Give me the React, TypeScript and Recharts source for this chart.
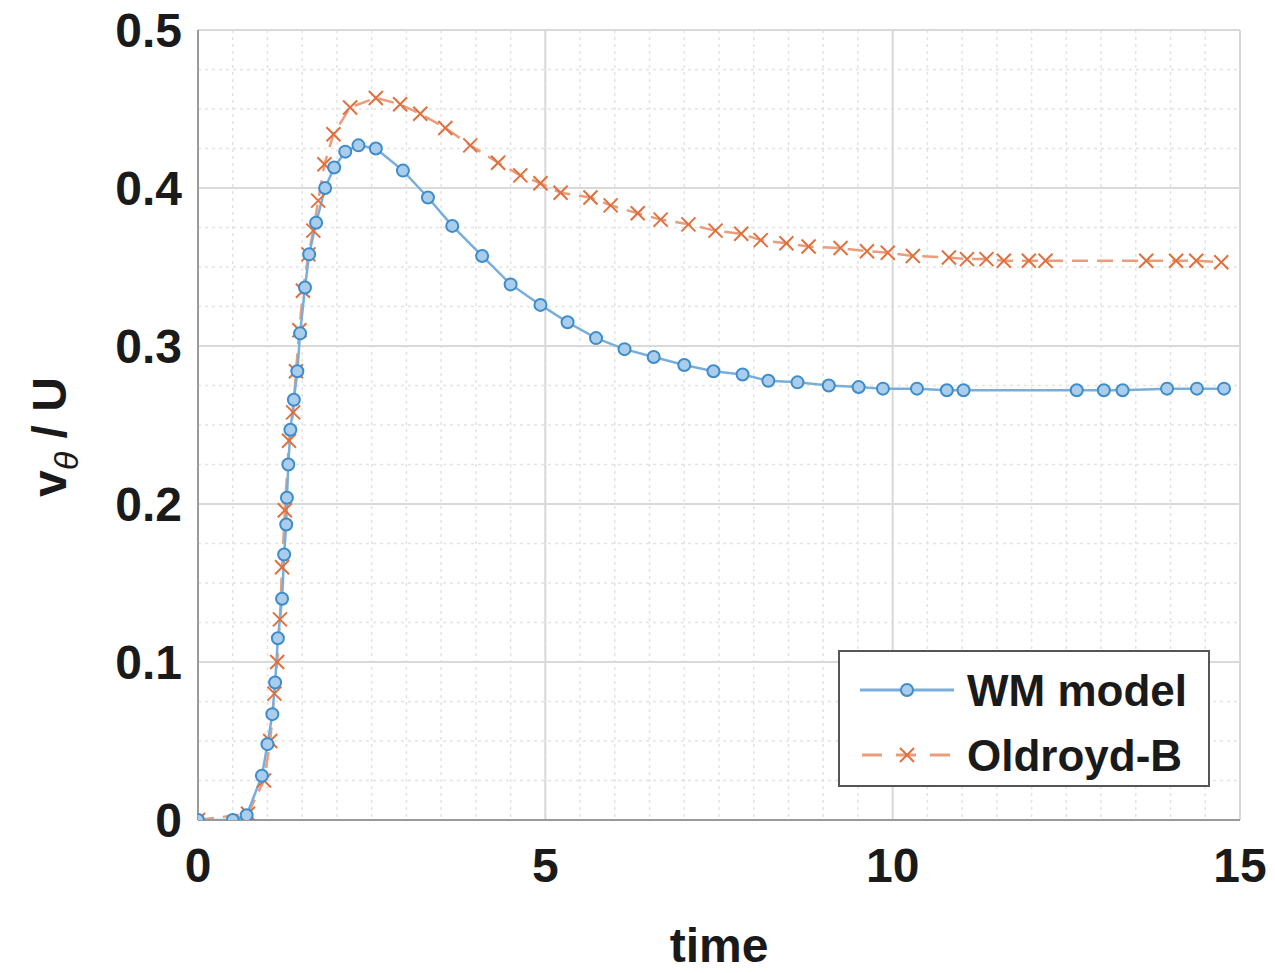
import { LineChart, Line, XAxis, YAxis, CartesianGrid, Label } from "recharts";

// WM model (blue circles)
const WM_T = [
  0, 0.5, 0.7, 0.92, 1.0, 1.07, 1.11, 1.15, 1.21, 1.24, 1.27, 1.28, 1.3, 1.33,
  1.38, 1.43, 1.47, 1.54, 1.6, 1.7, 1.83, 1.96, 2.12, 2.31, 2.56, 2.95, 3.31,
  3.66, 4.09, 4.5, 4.93, 5.32, 5.73, 6.14, 6.56, 7.0, 7.42, 7.84, 8.21, 8.63,
  9.08, 9.51, 9.86, 10.35, 10.78, 11.02, 12.65, 13.04, 13.31, 13.95, 14.38,
  14.77,
];
const WM_V = [
  0, 0, 0.003, 0.028, 0.048, 0.067, 0.087, 0.115, 0.14, 0.168, 0.187, 0.204,
  0.225, 0.247, 0.266, 0.284, 0.308, 0.337, 0.358, 0.378, 0.4, 0.413, 0.423,
  0.427, 0.425, 0.411, 0.394, 0.376, 0.357, 0.339, 0.326, 0.315, 0.305, 0.298,
  0.293, 0.288, 0.284, 0.282, 0.278, 0.277, 0.275, 0.274, 0.273, 0.273, 0.272,
  0.272, 0.272, 0.272, 0.272, 0.273, 0.273, 0.273,
];

// Oldroyd-B (red crosses)
const OB_T = [
  0, 0.72, 0.95, 1.04, 1.1, 1.14, 1.18, 1.21, 1.25, 1.31, 1.37, 1.41, 1.46,
  1.51, 1.59, 1.66, 1.73, 1.82, 1.95, 2.19, 2.56, 2.91, 3.2, 3.56, 3.92, 4.32,
  4.64, 4.93, 5.22, 5.65, 5.94, 6.33, 6.66, 7.06, 7.45, 7.82, 8.1, 8.47, 8.79,
  9.25, 9.63, 9.93, 10.29, 10.81, 11.07, 11.35, 11.6, 11.96, 12.2, 13.65,
  14.08, 14.37, 14.73,
];
const OB_V = [
  0, 0.004, 0.025, 0.05, 0.08, 0.1, 0.127, 0.16, 0.196, 0.24, 0.258, 0.284,
  0.31, 0.335, 0.358, 0.373, 0.392, 0.415, 0.434, 0.451, 0.457, 0.453, 0.447,
  0.438, 0.427, 0.416, 0.408, 0.403, 0.397, 0.394, 0.389, 0.384, 0.38, 0.377,
  0.373, 0.371, 0.367, 0.365, 0.363, 0.362, 0.36, 0.359, 0.357, 0.356, 0.355,
  0.355, 0.354, 0.354, 0.354, 0.354, 0.354, 0.354, 0.353,
];

const X_TICKS = [0, 5, 10, 15];
const Y_TICKS = [0, 0.1, 0.2, 0.3, 0.4, 0.5];
const X_MINOR = Array.from({ length: 31 }, (_, i) => i * 0.5);
const Y_MINOR = Array.from({ length: 21 }, (_, i) => i * 0.025);

const wmData = WM_T.map((t, i) => ({ t, v: WM_V[i] }));
const obData = OB_T.map((t, i) => ({ t, v: OB_V[i] }));

const BLUE = "#3d8ccb";
const BLUE_LINE = "#79aedb";
const RED = "#e0703e";
const RED_LINE = "#eb9c7a";
const FONT = "'Liberation Sans', Arial, sans-serif";

const tickStyle = { fill: "#1a1a1a", fontSize: 48, fontWeight: 700, fontFamily: FONT };

function CircleDot(props: any) {
  const { cx, cy } = props;
  if (cx == null || cy == null) return null;
  return (
    <circle cx={cx} cy={cy} r={6} fill="#a9cdea" stroke={BLUE} strokeWidth={2} />
  );
}

function CrossDot(props: any) {
  const { cx, cy } = props;
  if (cx == null || cy == null) return null;
  const s = 7;
  return (
    <g stroke={RED} strokeWidth={2}>
      <line x1={cx - s} y1={cy - s} x2={cx + s} y2={cy + s} />
      <line x1={cx - s} y1={cy + s} x2={cx + s} y2={cy - s} />
    </g>
  );
}

function YTitle(props: any) {
  const { viewBox } = props;
  const x = 66;
  const y = viewBox ? viewBox.y + viewBox.height / 2 + 12 : 437;
  return (
    <text
      x={x}
      y={y}
      transform={`rotate(-90, ${x}, ${y})`}
      textAnchor="middle"
      fill="#1a1a1a"
      fontSize={48}
      fontWeight={700}
      fontFamily={FONT}
    >
      v
      <tspan fontSize={34} fontStyle="italic" fontWeight={400} dy={12}>θ</tspan>
      <tspan dy={-12}> / U</tspan>
    </text>
  );
}

function Legend() {
  return (
    <div
      style={{
        position: "absolute",
        left: 838,
        top: 650,
        width: 368,
        height: 133,
        border: "2px solid #555",
        background: "#fff",
      }}
    >
      <svg width={368} height={133}>
        <line x1={20} y1={38} x2={114} y2={38} stroke={BLUE_LINE} strokeWidth={3} />
        <circle cx={67} cy={38} r={6} fill="#a9cdea" stroke={BLUE} strokeWidth={2} />
        <line x1={20} y1={103} x2={114} y2={103} stroke={RED_LINE} strokeWidth={3} strokeDasharray="20 14" strokeDashoffset={-2} />
        <g stroke={RED} strokeWidth={2}>
          <line x1={60} y1={96} x2={74} y2={110} />
          <line x1={60} y1={110} x2={74} y2={96} />
        </g>
        <text x={127} y={54} fontSize={44} fontWeight={700} fontFamily={FONT} fill="#1a1a1a">
          WM model
        </text>
        <text x={127} y={119} fontSize={44} fontWeight={700} fontFamily={FONT} fill="#1a1a1a">
          Oldroyd-B
        </text>
      </svg>
    </div>
  );
}

export default function App() {
  return (
    <div
      style={{
        position: "absolute",
        left: 0,
        top: 0,
        width: 1275,
        height: 973,
        background: "#fff",
        overflow: "hidden",
      }}
    >
      <LineChart
        width={1275}
        height={973}
        margin={{ top: 30, right: 35, bottom: 53, left: 78 }}
      >
        <CartesianGrid
          horizontalValues={Y_MINOR}
          verticalValues={X_MINOR}
          stroke="#e3e3e3"
          strokeWidth={1.5}
          strokeDasharray="3 4"
        />
        <CartesianGrid
          horizontalValues={Y_TICKS}
          verticalValues={X_TICKS}
          stroke="#d9d9d9"
          strokeWidth={2}
        />
        <XAxis
          type="number"
          dataKey="t"
          domain={[0, 15]}
          ticks={X_TICKS}
          allowDataOverflow
          height={100}
          tickLine={false}
          tickMargin={22}
          stroke="#9a9a9a"
          strokeWidth={2}
          tick={tickStyle}
        >
          <Label
            value="time"
            position="insideBottom"
            offset={-42}
            style={{ fill: "#1a1a1a", fontSize: 48, fontWeight: 700, fontFamily: FONT }}
          />
        </XAxis>
        <YAxis
          type="number"
          dataKey="v"
          domain={[0, 0.5]}
          ticks={Y_TICKS}
          allowDataOverflow
          width={120}
          tickLine={false}
          tickMargin={10}
          stroke="#9a9a9a"
          strokeWidth={2}
          tick={tickStyle}
          tickFormatter={(v: number) => (v === 0 ? "0" : v.toFixed(1))}
        >
          <Label content={<YTitle />} />
        </YAxis>
        <Line
          data={obData}
          dataKey="v"
          type="linear"
          stroke={RED_LINE}
          strokeWidth={2.5}
          strokeDasharray="16 9"
          dot={<CrossDot />}
          activeDot={false}
          isAnimationActive={false}
        />
        <Line
          data={wmData}
          dataKey="v"
          type="linear"
          stroke={BLUE_LINE}
          strokeWidth={2.5}
          dot={<CircleDot />}
          activeDot={false}
          isAnimationActive={false}
        />
      </LineChart>
      <Legend />
    </div>
  );
}
